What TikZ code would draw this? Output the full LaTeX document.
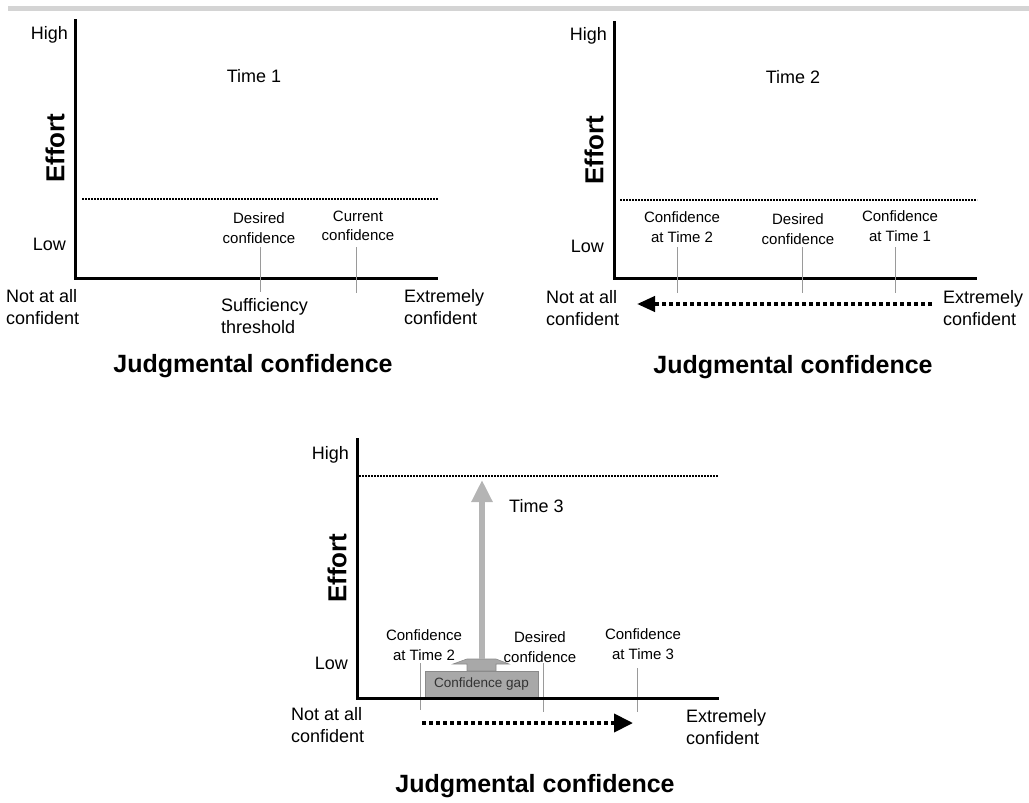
\documentclass[tikz,border=0pt]{standalone}
\usepackage{fontspec}
\setmainfont{Liberation Sans}
\usetikzlibrary{arrows.meta}
\definecolor{barcol}{HTML}{D4D4D4}
\definecolor{tickcol}{HTML}{9A9A9A}
\definecolor{upcol}{HTML}{B4B4B4}
\definecolor{gapfill}{HTML}{A8A8A8}
\definecolor{gapline}{HTML}{8A8A8A}
\tikzset{
  axis/.style={line width=3pt, line cap=rect},
  level/.style={line width=1.6pt, dash pattern=on 1.6pt off 1.4pt},
  movearrow/.style={line width=4pt, dash pattern=on 4pt off 3pt, -{Triangle[length=19pt,width=18pt]}},
  tickline/.style={draw=tickcol, line width=0.9pt},
  big/.style={font=\fontsize{18}{21.5}\selectfont, inner sep=0pt},
  small/.style={font=\fontsize{15}{19.5}\selectfont, inner sep=0pt, align=center},
  ends/.style={big, align=left, anchor=west},
  efflabel/.style={font=\fontsize{26}{30}\selectfont\bfseries, rotate=90, inner sep=0pt},
  xlabel/.style={font=\fontsize{25}{30}\selectfont\bfseries, inner sep=0pt},
}
\begin{document}
\begin{tikzpicture}[x=1pt, y=-1pt]
\useasboundingbox (0,0) rectangle (1029,803);
\fill[barcol] (8,6) rectangle (1029,11);

% ---------------- Time 1 ----------------
\coordinate (a1top) at (75,20);
\coordinate (a1o) at (75,278);
\coordinate (a1end) at (436,278);
\coordinate (l1s) at (82,199);
\coordinate (l1e) at (438,199);
\draw[level] (l1s) -- (l1e);
\draw[axis] (a1top) -- (a1o) -- (a1end);
\node[big, anchor=east] (hi1) at (68,35) {High};
\node[big, anchor=east] (lo1) at (66,244) {Low};
\node[efflabel] (eff1) at (55,148) {Effort};
\node[big] (t1) at (254,76) {Time 1};
\node[small] (des1) at (259,228) {Desired\\confidence};
\node[small] (cur1) at (358,226) {Current\\confidence};
\coordinate (d1a) at (260,247); \coordinate (d1b) at (260,292);
\coordinate (c1a) at (356,247); \coordinate (c1b) at (356,293);
\draw[tickline] (d1a) -- (d1b);
\draw[tickline] (c1a) -- (c1b);
\node[big, align=left, anchor=west] (suf1) at (221,316) {Sufficiency\\threshold};
\node[ends] (nc1) at (6,307) {Not at all\\confident};
\node[ends] (ec1) at (404,307) {Extremely\\confident};
\node[xlabel] (jc1) at (253,366) {Judgmental confidence};

% ---------------- Time 2 ----------------
\coordinate (a2top) at (614,22);
\coordinate (a2o) at (614,278);
\coordinate (a2end) at (975,278);
\coordinate (l2s) at (620,200);
\coordinate (l2e) at (977,200);
\draw[level] (l2s) -- (l2e);
\draw[axis] (a2top) -- (a2o) -- (a2end);
\node[big, anchor=east] (hi2) at (607,36) {High};
\node[big, anchor=east] (lo2) at (604,246) {Low};
\node[efflabel] (eff2) at (594,150) {Effort};
\node[big] (t2) at (793,77) {Time 2};
\node[small] (ct2) at (682,227) {Confidence\\at Time 2};
\node[small] (des2) at (798,229) {Desired\\confidence};
\node[small] (ct1) at (900,226) {Confidence\\at Time 1};
\coordinate (p2a) at (677,247); \coordinate (p2b) at (677,293);
\coordinate (q2a) at (802,247); \coordinate (q2b) at (802,293);
\coordinate (r2a) at (895,247); \coordinate (r2b) at (895,293);
\draw[tickline] (p2a) -- (p2b);
\draw[tickline] (q2a) -- (q2b);
\draw[tickline] (r2a) -- (r2b);
\coordinate (s2from) at (932,304);
\coordinate (s2to) at (637,304);
\draw[movearrow, -{Triangle[length=18pt,width=15pt]}] (s2from) -- (s2to);
\node[ends] (nc2) at (546,308) {Not at all\\confident};
\node[ends] (ec2) at (943,308) {Extremely\\confident};
\node[xlabel] (jc2) at (793,367) {Judgmental confidence};

% ---------------- Time 3 ----------------
\coordinate (a3top) at (357,439);
\coordinate (a3o) at (357,698);
\coordinate (a3end) at (717,698);
\coordinate (l3s) at (359,476);
\coordinate (l3e) at (718,476);
\draw[level] (l3s) -- (l3e);
\node[big, anchor=east] (hi3) at (349,455) {High};
\node[big, anchor=east] (lo3) at (348,663) {Low};
\node[efflabel] (eff3) at (337,568) {Effort};
\node[big, anchor=west] (t3) at (509,506) {Time 3};
\node[small] (ct2b) at (424,645) {Confidence\\at Time 2};
\node[small] (des3) at (540,647) {Desired\\confidence};
\node[small] (ct3) at (643,644) {Confidence\\at Time 3};
\coordinate (p3a) at (420,663); \coordinate (p3b) at (420,710);
\coordinate (q3a) at (543,663); \coordinate (q3b) at (543,712);
\coordinate (r3a) at (637,668); \coordinate (r3b) at (637,712);
\draw[tickline] (p3a) -- (p3b);
\draw[tickline] (q3a) -- (q3b);
\draw[tickline] (r3a) -- (r3b);
% gap block with its raised base
\node[draw=gapline, fill=gapfill, line width=0.8pt, minimum width=113pt, minimum height=26pt,
      inner sep=0pt, font=\fontsize{13.5}{16}\selectfont, text=black!80] (gap) at (481.5,684) {Confidence gap};
\filldraw[draw=gapline, fill=gapfill, line width=0.6pt]
  (453,664) -- (467,659) -- (496,659) -- (509,664) -- (496,664) -- (496,671)
  -- (467,671) -- (467,664) -- cycle;
\coordinate (upto) at (482,480);
\coordinate (upfrom) at (482,659);
\draw[upcol, line width=6pt, -{Triangle[length=22pt,width=20pt]}] (upfrom) -- (upto);
\draw[axis] (a3top) -- (a3o) -- (a3end);
\coordinate (s3from) at (422,723);
\coordinate (s3to) at (633,723);
\draw[movearrow] (s3from) -- (s3to);
\node[ends] (nc3) at (291,725) {Not at all\\confident};
\node[ends] (ec3) at (686,727) {Extremely\\confident};
\node[xlabel] (jc3) at (535,786) {Judgmental confidence};
\end{tikzpicture}
\end{document}
